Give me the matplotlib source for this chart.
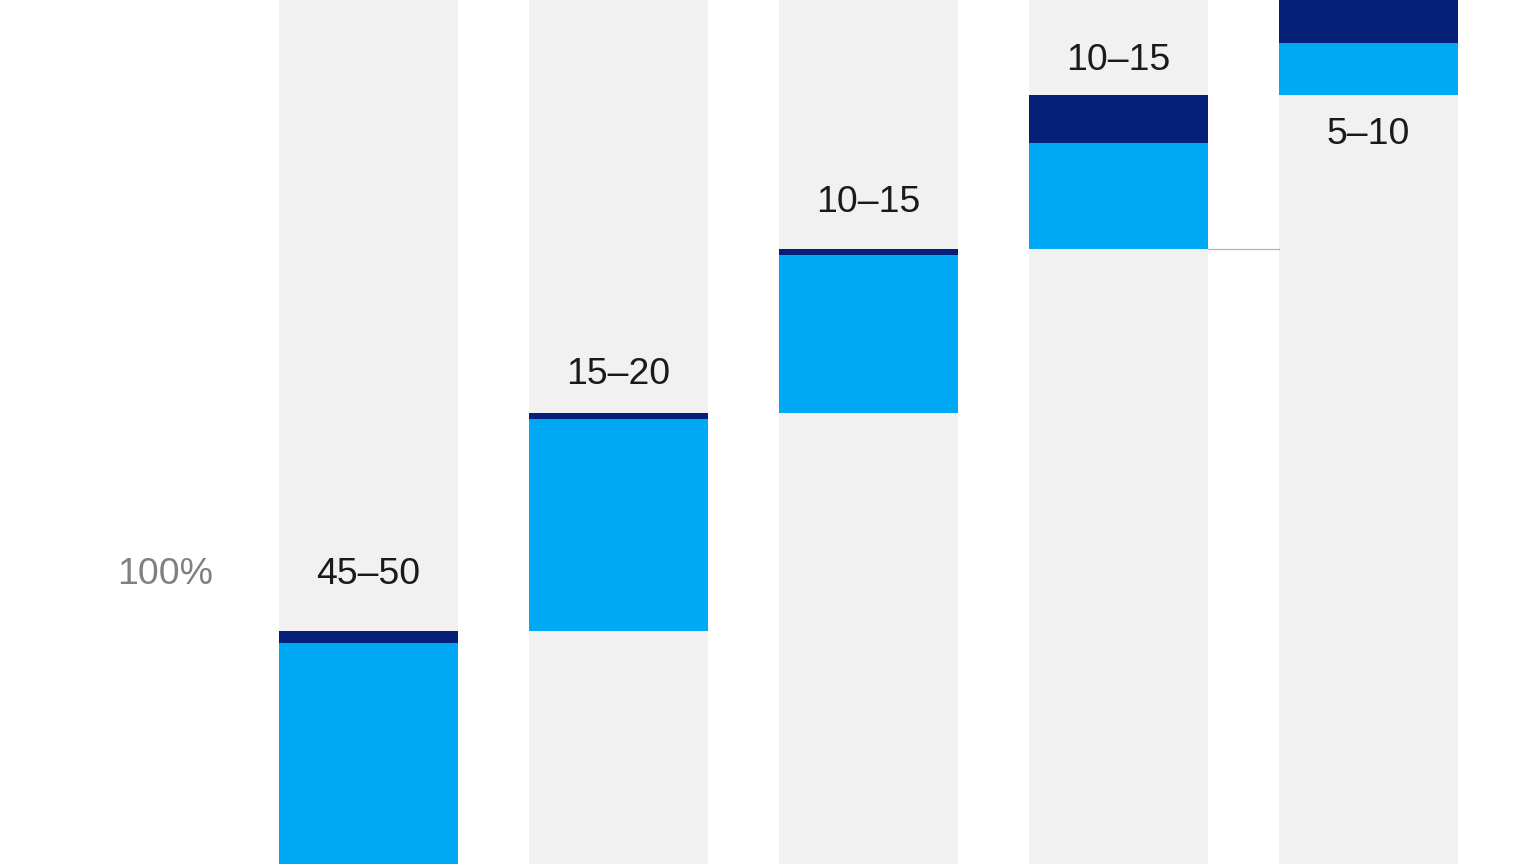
import matplotlib.pyplot as plt
import numpy as np

plt.rcParams['font.family'] = ['Liberation Sans', 'DejaVu Sans']

# data (arbitrary units, chart is cropped at the bottom)
labels = ["45–50", "15–20", "10–15", "10–15", "5–10"]
light_vals = [221, 212, 158, 106, 52]
dark_vals = [12, 6, 6, 48, 45]

LIGHT = "#00a9f4"
DARK = "#061f78"
GREY_COL = "#f1f1f1"

x = np.arange(len(labels))
bases = np.concatenate([[0], np.cumsum(np.array(light_vals) + np.array(dark_vals))[:-1]])
tops = bases + np.array(light_vals) + np.array(dark_vals)

fig = plt.figure(figsize=(16, 9), dpi=96)
ax = fig.add_axes([0, 0, 1, 1])
w = 0.716

# grey background columns
ax.bar(x, 864, width=w, color=GREY_COL, zorder=0)
ax.bar(x, light_vals, bottom=bases, width=w, color=LIGHT, zorder=2)
ax.bar(x, dark_vals, bottom=bases + np.array(light_vals), width=w, color=DARK, zorder=2)

# connector between bar 4 and 5
ax.plot([x[3] + w/2, x[4] - w/2], [bases[3], bases[3]], color="#b5b5b5", lw=1, zorder=1)

# labels (offset in pixels above the top, last one under the bar)
offsets = [56, 38, 46, 35]
for i in range(4):
    ax.annotate(labels[i], (x[i], tops[i]), xytext=(0, offsets[i]), textcoords="offset pixels",
                ha="center", va="center", fontsize=28, color="#1a1a1a")
ax.annotate(labels[4], (x[4], bases[4]), xytext=(0, -39), textcoords="offset pixels",
            ha="center", va="center", fontsize=28, color="#1a1a1a")

ax.annotate("100%", (x[0], tops[0]), xytext=(-203, 56), textcoords="offset pixels",
            ha="center", va="center", fontsize=28, color="#808080")

ax.set_xlim(-368/250, (1536-368)/250)
ax.set_ylim(0, 864)
ax.axis("off")

fig.savefig("out.png", dpi=96, facecolor="white")
